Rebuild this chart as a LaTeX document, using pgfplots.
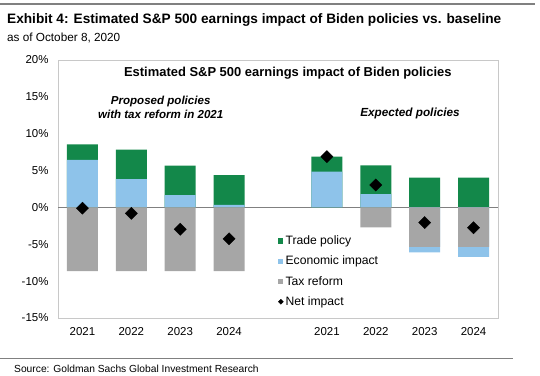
\documentclass[border=0pt]{standalone}
\usepackage{fontspec}
\setmainfont{Liberation Sans}
\usepackage{pgfplots}
\pgfplotsset{compat=1.18}
\definecolor{cgreen}{RGB}{19,136,74}
\definecolor{cblue}{RGB}{142,195,234}
\definecolor{cgray}{RGB}{166,166,166}
\definecolor{cframe}{RGB}{200,200,200}
\begin{document}
\begin{tikzpicture}[x=1bp,y=1bp]
\path[use as bounding box] (0,0) rectangle (540,375);
\draw[line width=1.5bp, gray] (0,371) -- (535,371);
\node[anchor=west, font=\fontsize{13.7}{15}\selectfont\bfseries, inner sep=0pt] at (7,355) {Exhibit 4: Estimated S\&P 500 earnings impact of Biden policies vs. baseline};
\node[anchor=west, font=\fontsize{11.8}{13}\selectfont, inner sep=0pt] at (7,337) {as of October 8, 2020};
\draw[line width=0.8bp, gray] (0,17) -- (513,17);
\node[anchor=west, font=\fontsize{10.3}{12}\selectfont, inner sep=0pt] at (14,6) {Source: Goldman Sachs Global Investment Research};
\begin{axis}[
  at={(58bp,57bp)}, anchor=south west,
  scale only axis, width=440bp, height=258bp,
  xmin=-0.5, xmax=8.5, ymin=-15, ymax=20,
  ytick={-15,-10,...,20},
  yticklabel={\pgfmathprintnumber{\tick}\%},
  xtick={0,1,2,3,5,6,7,8},
  xticklabels={2021,2022,2023,2024,2021,2022,2023,2024},
  /pgf/number format/assume math mode=true,
  tick label style={font=\fontsize{11.5}{13}\selectfont},
  major tick length=0pt,
  yticklabel style={xshift=-6bp},
  xticklabel style={yshift=-6bp},
  axis line style={cframe},
  extra y ticks={0}, extra y tick labels={},
  extra y tick style={grid=major, grid style={gray, line width=0.8bp}},
  ybar, bar width=31bp, bar shift=0pt,
  legend style={at={(0.5,0.327)}, anchor=north west, draw=none, fill=none,
    font=\fontsize{12.2}{14}\selectfont, row sep=6bp, inner sep=0pt,
    cells={anchor=west}},
  legend cell align=left,
  clip=false,
]
% positive total (economic + trade), trade policy shown on top
\addplot[fill=cgreen, draw=none, legend image code/.code={\fill[cgreen] (0.05em,-0.27em) rectangle (0.58em,0.27em);}]
  coordinates {(0,8.56) (1,7.84) (2,5.68) (3,4.37) (5,6.89) (6,5.72) (7,4.05) (8,4.05)};
\addlegendentry{Trade policy}
% economic impact (positive) / economic + tax (negative)
\addplot[fill=cblue, draw=none, legend image code/.code={\fill[cblue] (0.05em,-0.27em) rectangle (0.58em,0.27em);}]
  coordinates {(0,6.44) (1,3.83) (2,1.67) (3,0.36) (5,4.86) (6,1.80) (7,-6.08) (8,-6.71)};
\addlegendentry{Economic impact}
\addplot[fill=cgray, draw=none, legend image code/.code={\fill[cgray] (0.05em,-0.27em) rectangle (0.58em,0.27em);}]
  coordinates {(0,-8.65) (1,-8.65) (2,-8.65) (3,-8.65) (6,-2.70) (7,-5.36) (8,-5.36)};
\addlegendentry{Tax reform}
\addplot[only marks, mark=square*, mark size=4.3bp, mark options={rotate=45, fill=black, draw=black},
  legend image code/.code={\fill[black] (0.32em,-0.25em) -- (0.57em,0) -- (0.32em,0.25em) -- (0.07em,0) -- cycle;}]
  coordinates {(0,-0.1) (1,-0.8) (2,-2.97) (3,-4.25) (5,6.89) (6,3.05) (7,-2.05) (8,-2.75)};
\addlegendentry{Net impact}
\node[font=\fontsize{13}{15}\selectfont\bfseries] at (axis cs:4.2,18.2) {Estimated S\&P 500 earnings impact of Biden policies};
\node[font=\fontsize{11.6}{14}\selectfont\bfseries\itshape, align=center] at (axis cs:1.6,13.6) {Proposed policies\\with tax reform in 2021};
\node[font=\fontsize{11.8}{14}\selectfont\bfseries\itshape] at (axis cs:6.7,12.8) {Expected policies};
\end{axis}
\end{tikzpicture}
\end{document}
